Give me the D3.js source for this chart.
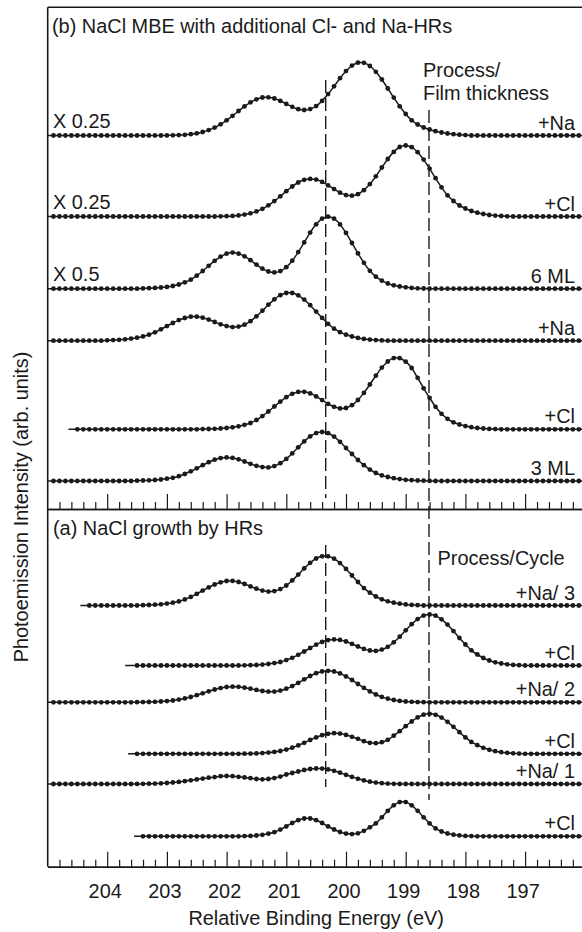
<!DOCTYPE html>
<html>
<head>
<meta charset="utf-8">
<script src="https://cdn.jsdelivr.net/npm/d3@7"></script>
<style>
  html, body { margin: 0; padding: 0; background: #fff; }
  svg { display: block; font-family: "Liberation Sans", Arial, Helvetica, sans-serif; }
</style>
</head>
<body>
<svg id="chart" width="582" height="932"></svg>
<script>
// Cl 2p spectra, one value every 0.1 eV (arb. units),
// each list starts at the energy given in peakFrom; outside it the trace sits on its baseline.

// (b) NaCl MBE with additional Cl- and Na-HRs, top to bottom
const naB2 = [0.1,0.2,0.4,0.7,1.3,2.2,3.5,5.4,7.9,11.2,15.2,19.7,24.5,29.1,33.2,36.2,38.0,38.2,37.0,34.6,31.6,28.7,26.3,25.5,26.4,29.4,34.6,41.4,49.2,57.3,64.4,69.9,72.8,72.7,69.5,63.7,56.0,47.0,37.9,29.2,21.5,15.2,11,8,6,4.3,3,2,1.3,0.8,0.4];
const clB2 = [0.15,0.3,0.6,1.1,1.9,3.2,5.1,7.7,11.2,15.4,20.2,25.3,30.0,34.0,36.7,37.6,36.9,34.6,31.1,27.4,23.8,21.4,20.8,22.3,26.3,32.4,40.2,49.0,57.5,64.6,69.5,71.0,69.3,64.3,56.9,47.9,38.3,29.2,21.2,15.5,11,8,5.5,3.8,2.5,1.5,0.9,0.5,0.2];
const ml6 = [0.3,0.5,0.8,1.2,1.8,2.7,4.2,6.4,9.0,13.0,17.7,22.9,27.9,32.1,35.0,36.1,35.1,32.4,28.5,24.1,20.0,17.2,16.3,17.6,21.5,28.0,36.6,46.3,56.1,64.4,70.1,72.0,70.0,64.3,55.8,45.7,35.4,25.9,17.9,12,8,5.2,3.4,2.2,1.4,0.8,0.4,0.2];
const naB1 = [0.4,0.6,0.9,1.4,2.1,3.0,4.3,6.0,8.4,11.4,14.6,17.7,20.6,22.7,24.0,24.0,23.0,21.1,18.7,16.4,14.6,13.6,14.1,16.0,19.5,24.4,30.0,36.0,41.4,45.5,47.7,47.7,45.4,41.1,35.5,29.1,22.8,16.9,12.0,8.5,6,4.2,2.8,1.8,1.1,0.6,0.3];
const clB1 = [0.2,0.3,0.5,0.8,1.3,2.0,3.0,4.5,6.3,9.3,13.2,17.8,22.8,27.7,32.1,35.5,37.4,37.5,35.9,32.9,29.2,25.5,22.5,20.9,21.3,24.1,29.3,36.4,44.8,53.6,61.7,67.8,71.2,71.1,67.6,61.3,51.5,41,31.5,22.5,15.5,10.5,7,4.8,3.2,2.1,1.3,0.8,0.4,0.2];
const ml3 = [0.3,0.5,0.7,1.0,1.5,2.3,3.2,4.8,7.0,9.7,12.7,15.8,18.8,21.3,22.9,23.6,23.1,21.7,19.5,17.2,15.2,13.9,13.6,14.9,17.8,22.1,27.6,33.7,39.6,44.6,47.9,49.0,47.8,44.4,39.2,33.0,27,21,15.8,11.4,8,5.6,4,2.8,1.9,1.2,0.8,0.5,0.3,0.1];

// (a) NaCl growth by HRs, top to bottom
const naA3 = [0.3,0.5,0.8,1.2,1.9,2.8,4.1,6.1,8.6,11.6,14.9,18.1,21.0,23.2,24.5,24.6,23.5,21.5,19.1,16.8,14.9,13.9,14.4,16.4,20.0,25.1,30.9,37.1,42.7,47.0,49.2,49.2,46.8,42.4,36.6,30.0,23.5,17.4,12.8,9,6.2,4.2,2.8,1.8,1.1,0.6,0.3];
const clA3 = [0.2,0.3,0.5,0.9,1.5,2.4,3.5,5.4,7.7,10.7,14.0,17.5,20.8,23.6,25.4,26.1,25.6,24.0,21.6,19.0,16.6,15.0,14.6,15.9,18.7,23.2,28.8,35.2,41.3,46.4,49.9,51.0,49.8,46.2,40.9,34.4,27.5,21.0,15.2,11,7.5,5,3.2,2,1.2,0.6,0.3];
const naA2 = [0.1,0.2,0.3,0.5,0.8,1.2,1.8,2.7,3.9,5.3,7.1,9.0,11.0,12.8,14.2,15.3,15.6,15.5,14.6,13.6,12.4,11.3,10.7,10.7,11.7,13.6,16.2,19.4,23.0,26.3,29.1,30.9,31.5,30.8,28.9,25.9,22.3,18.3,14.4,10.9,7.8,5.4,3.6,2.3,1.4,0.8,0.45,0.25,0.1];
const clA2 = [0.1,0.2,0.4,0.7,1.2,1.9,2.8,4.2,6.1,8.4,11.0,13.8,16.4,18.6,20.0,20.6,20.2,18.9,17.0,15.0,12.6,11.0,10.6,11.6,14.0,18.1,22.6,27.6,32.3,36.4,39.1,40.0,39.0,36.2,32.0,27.0,21.6,16.4,11.9,8.6,6,4,2.6,1.6,1.0,0.5,0.2];
const naA1 = [0.1,0.15,0.3,0.4,0.7,1.0,1.5,2.1,2.8,3.7,4.6,5.4,6.3,6.9,7.8,8.0,7.8,7.2,6.6,5.8,5.0,4.7,5.0,5.9,7.4,9.5,11.0,12.5,14.0,15.0,15.5,15.4,14.6,13.2,11.3,9.2,7.1,5.2,3.6,2.3,1.4,0.8,0.4,0.2];
const clA1 = [0.2,0.4,0.8,1.5,2.6,4.1,6.7,9.9,13.3,16.1,17.8,17.8,16.1,13.3,9.9,6.8,4.3,2.7,2.2,3.0,5.5,9,12.9,19.0,25.5,31.0,34.2,34.2,31.0,25.5,19.0,12.9,7.9,4.8,2.8,1.6,0.9,0.4,0.2];

const traceValues = [naB2, clB2, ml6, naB1, clB1, ml3, naA3, clA3, naA2, clA2, naA1, clA1];
const panelOf     = ['b', 'b', 'b', 'b', 'b', 'b', 'a', 'a', 'a', 'a', 'a', 'a'];
const peakFrom    = [203.0, 202.1, 203.4, 204.0, 202.4, 203.5, 203.4, 201.7, 203.5, 201.7, 203.5, 201.7];
const firstDot    = [204.9, 204.9, 204.9, 204.9, 204.5, 204.9, 204.3, 203.5, 204.9, 203.5, 204.9, 203.4];
const lineFrom    = [205, 205, 205, 205, 204.65, 205, 204.45, 203.7, 205, 203.65, 205, 203.55];
const offsets     = [373.5, 292.5, 220.3, 168.3, 79.7, 28, 261.2, 201.2, 164.4, 112.9, 82.7, 30.4];
const rightLabels = ['+Na', '+Cl', '6 ML', '+Na', '+Cl', '3 ML', '+Na/ 3', '+Cl', '+Na/ 2', '+Cl', '+Na/ 1', '+Cl'];
const scaleLabels = ['X 0.25', 'X 0.25', 'X 0.5', '', '', '', '', '', '', '', '', ''];

const majorTicks = [204, 203, 202, 201, 200, 199, 198, 197];
const markerE = [200.34, 198.61];

// layout
const ink = '#1a1a1a';
const fontSize = 19.9;
const plotLeft = 47.7, plotTop = 7.3, plotMid = 509, plotBottom = 866.7;

const svg = d3.select('#chart');

const x = d3.scaleLinear().domain([205, 196]).range([47.5, 584.8]);
const yScales = {
  b: d3.scaleLinear().domain([0, plotMid - plotTop]).range([plotMid, plotTop]),
  a: d3.scaleLinear().domain([0, plotBottom - plotMid]).range([plotBottom, plotMid]),
};

const minorTicks = d3.range(981, 1025).map(k => k / 5).filter(v => v % 1 !== 0);

// frame
svg.append('line')
  .attr('x1', plotLeft).attr('x2', 582).attr('y1', plotTop).attr('y2', plotTop)
  .attr('stroke', ink).attr('stroke-width', 1.5);
svg.append('line')
  .attr('x1', plotLeft).attr('x2', plotLeft).attr('y1', plotTop).attr('y2', plotBottom)
  .attr('stroke', ink).attr('stroke-width', 1.6);

function drawAxis(yPos, withLabels) {
  const gMinor = svg.append('g').attr('transform', `translate(0,${yPos})`)
    .call(d3.axisBottom(x).tickValues(minorTicks).tickSize(-7).tickSizeOuter(0).tickFormat(''));
  const gMajor = svg.append('g').attr('transform', `translate(0,${yPos})`)
    .call(d3.axisBottom(x).tickValues(majorTicks).tickSize(-15).tickSizeOuter(0).tickPadding(17)
      .tickFormat(withLabels ? d3.format('d') : ''));
  [gMinor, gMajor].forEach(g => {
    g.selectAll('path.domain').attr('stroke', ink).attr('stroke-width', 1.5);
    g.selectAll('.tick line').attr('stroke', ink).attr('stroke-width', 1.2);
  });
  gMajor.selectAll('.tick text')
    .attr('fill', ink)
    .attr('dx', -2.5)
    .style('font-family', '"Liberation Sans", Arial, Helvetica, sans-serif')
    .style('font-size', fontSize + 'px');
}
drawAxis(plotMid, false);
drawAxis(plotBottom, true);

// reference energies (dashed)
const markerSpans = [[[80, 498], [545, 787]], [[110, 800]]];
markerE.forEach((e, i) => {
  markerSpans[i].forEach(([y1, y2]) => {
    svg.append('line')
      .attr('x1', x(e)).attr('x2', x(e)).attr('y1', y1).attr('y2', y2)
      .attr('stroke', ink).attr('stroke-width', 1.4)
      .attr('stroke-dasharray', '13,5');
  });
});

// spectra
function tracePoints(i) {
  const vals = traceValues[i];
  const kFrom = Math.round(peakFrom[i] * 10);
  const pts = [];
  for (let k = Math.round(firstDot[i] * 10); k >= 1961; k--) {
    const j = kFrom - k;
    pts.push({ e: k / 10, v: (j >= 0 && j < vals.length) ? vals[j] : 0 });
  }
  return pts;
}

traceValues.forEach((vals, i) => {
  const y = yScales[panelOf[i]];
  const off = offsets[i];
  const pts = tracePoints(i);
  const linePts = [{ e: lineFrom[i], v: 0 }, ...pts, { e: 196.0, v: 0 }];

  const line = d3.line()
    .x(d => x(d.e))
    .y(d => y(off + d.v))
    .curve(d3.curveCatmullRom.alpha(0.5));

  const g = svg.append('g');
  g.append('path')
    .attr('d', line(linePts))
    .attr('fill', 'none')
    .attr('stroke', ink)
    .attr('stroke-width', 1.5);

  g.selectAll('circle')
    .data(pts)
    .join('circle')
    .attr('cx', d => x(d.e))
    .attr('cy', d => y(off + d.v))
    .attr('r', 2.4)
    .attr('fill', ink);

  g.append('text')
    .attr('x', 575).attr('y', y(off) - 6)
    .attr('text-anchor', 'end')
    .attr('fill', ink)
    .style('font-size', fontSize + 'px')
    .text(rightLabels[i]);

  if (scaleLabels[i]) {
    g.append('text')
      .attr('x', 53).attr('y', y(off) - 8)
      .attr('fill', ink)
      .style('font-size', fontSize + 'px')
      .text(scaleLabels[i]);
  }
});

// annotations
const notes = [
  { t: '(b) NaCl MBE with additional Cl- and Na-HRs', x: 52, y: 33.3 },
  { t: 'Process/', x: 423, y: 76.7 },
  { t: 'Film thickness', x: 423, y: 100 },
  { t: '(a) NaCl growth by HRs', x: 53, y: 535 },
  { t: 'Process/Cycle', x: 437.5, y: 565 },
];
svg.selectAll('text.note')
  .data(notes)
  .join('text')
  .attr('class', 'note')
  .attr('x', d => d.x).attr('y', d => d.y)
  .attr('fill', ink)
  .style('font-size', fontSize + 'px')
  .text(d => d.t);

// axis titles
svg.append('text')
  .attr('x', x(200.5)).attr('y', 925)
  .attr('text-anchor', 'middle')
  .attr('fill', ink)
  .style('font-size', fontSize + 'px')
  .text('Relative Binding Energy (eV)');

svg.append('text')
  .attr('transform', 'translate(27.5,507) rotate(-90)')
  .attr('text-anchor', 'middle')
  .attr('fill', ink)
  .style('font-size', fontSize + 'px')
  .text('Photoemission Intensity (arb. units)');
</script>
</body>
</html>
